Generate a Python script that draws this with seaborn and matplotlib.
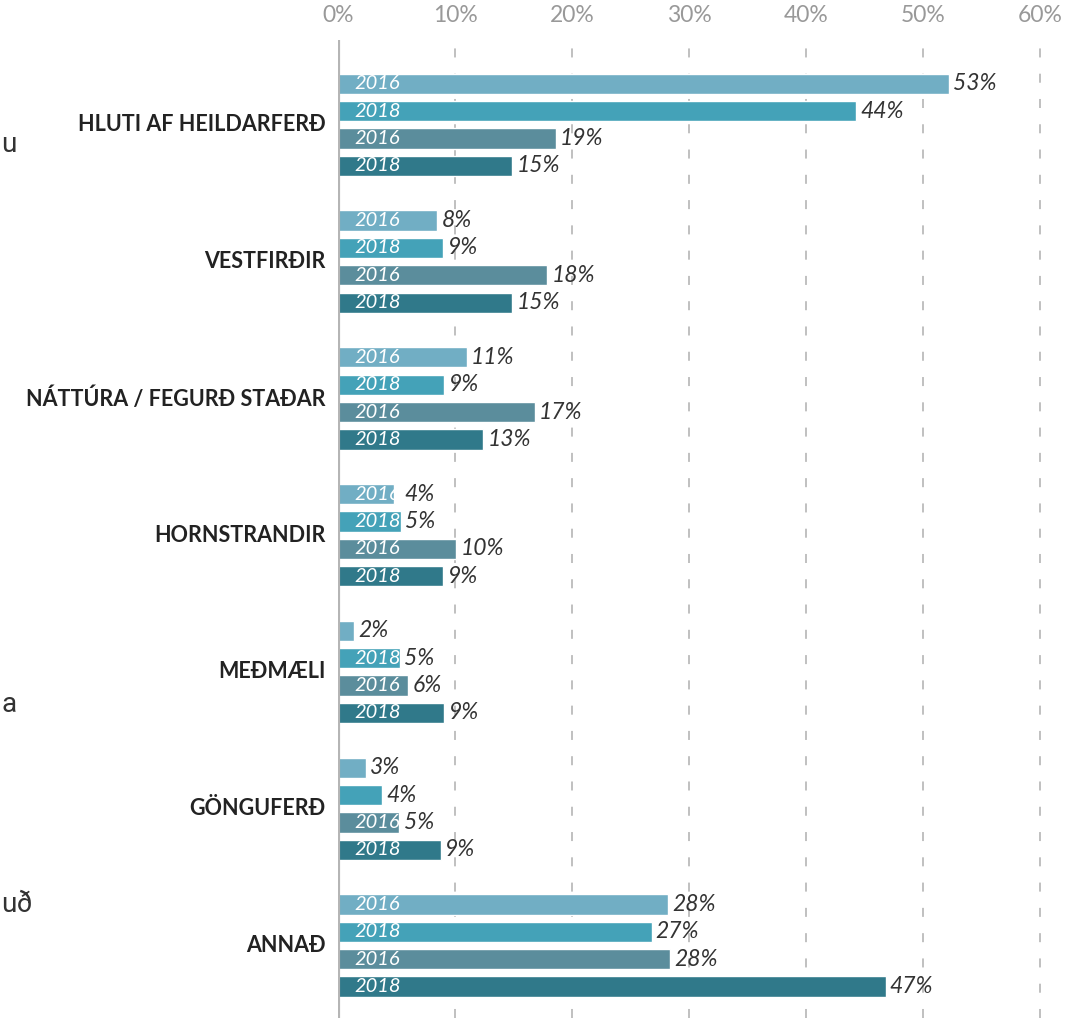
import pandas as pd
import matplotlib.pyplot as plt
import seaborn as sns

# categories (top to bottom)
categories = ["HLUTI AF HEILDARFERÐ", "VESTFIRÐIR", "NÁTTÚRA / FEGURÐ STAÐAR",
              "HORNSTRANDIR", "MEÐMÆLI", "GÖNGUFERÐ", "ANNAÐ"]

# four series, two survey years for each of two groups
series = ["2016 a", "2018 a", "2016 b", "2018 b"]
series_years = ["2016", "2018", "2016", "2018"]

# bar lengths (%)
vals_2016_a = [52.2, 8.5, 11.0, 4.8, 1.4, 2.4, 28.2]
vals_2018_a = [44.3, 9.0, 9.1, 5.4, 5.3, 3.8, 26.8]
vals_2016_b = [18.6, 17.9, 16.8, 10.1, 6.0, 5.2, 28.4]
vals_2018_b = [14.9, 14.9, 12.4, 9.0, 9.1, 8.8, 46.8]

# printed labels
labels_2016_a = ["53%", "8%", "11%", "4%", "2%", "3%", "28%"]
labels_2018_a = ["44%", "9%", "9%", "5%", "5%", "4%", "27%"]
labels_2016_b = ["19%", "18%", "17%", "10%", "6%", "5%", "28%"]
labels_2018_b = ["15%", "15%", "13%", "9%", "9%", "9%", "47%"]

colors = ["#71aec4", "#44a2b8", "#5b8d9c", "#30798a"]
ticks = [0, 10, 20, 30, 40, 50, 60]


def build_frame():
    rows = []
    for s, vals in zip(series, [vals_2016_a, vals_2018_a, vals_2016_b, vals_2018_b]):
        for c, v in zip(categories, vals):
            rows.append({"category": c, "series": s, "value": v})
    return pd.DataFrame(rows)


def main():
    df = build_frame()
    all_labels = [labels_2016_a, labels_2018_a, labels_2016_b, labels_2018_b]

    sns.set_style("white")
    plt.rcParams["font.family"] = ["Lato", "DejaVu Sans"]

    fig = plt.figure(figsize=(10.81, 10.18), dpi=100)
    ax = fig.add_axes([338 / 1081, 0, 1 - 338 / 1081, 1 - 40 / 1018])

    sns.barplot(data=df, y="category", x="value", hue="series", order=categories,
                hue_order=series, palette=colors, orient="h", width=0.8, gap=0.26,
                legend=False, ax=ax, saturation=1)

    ax.set_xlim(0, (1081 - 338) / 11.7)
    ax.set_ylim(6.53, -0.62)

    # dashed vertical grid
    for t in ticks[1:]:
        ax.axvline(t, color="#bbbbbb", lw=1.3, ls=(0, (5, 9)), zorder=0)
    ax.axvline(0, color="#b5b5b5", lw=3, zorder=3)

    ax.xaxis.tick_top()
    ax.set_xticks(ticks)
    ax.set_xticklabels([f"{t}%" for t in ticks], color="#999999", fontsize=16.5)
    ax.tick_params(axis="x", length=0, pad=10)
    ax.tick_params(axis="y", length=0)
    ax.set_yticks(range(len(categories)))
    ax.set_yticklabels([])
    ax.set_xlabel("")
    ax.set_ylabel("")
    for sp in ax.spines.values():
        sp.set_visible(False)

    # category names
    for i, c in enumerate(categories):
        ax.annotate(c, xy=(0, i), xycoords=("axes fraction", "data"),
                    xytext=(-9, 0), textcoords="offset points", ha="right",
                    va="center", fontsize=15.5, fontweight="bold", color="#222222")

    # year text inside bars and value labels
    for container, year, labels in zip(ax.containers, series_years, all_labels):
        for bar, lab in zip(container, labels):
            w = bar.get_width()
            yc = bar.get_y() + bar.get_height() / 2
            if w >= 4.5:
                t = ax.annotate(year, xy=(0, yc), xytext=(12, 0), textcoords="offset points",
                                ha="left", va="center", fontsize=14.5, style="italic",
                                color="white", zorder=5)
                t.set_clip_path(bar)
            lx = max(w, 5.3) if w >= 4.5 else w
            ax.annotate(lab, xy=(lx, yc), xytext=(3, 0), textcoords="offset points",
                        ha="left", va="center", fontsize=16.5, style="italic",
                        color="#333333", zorder=5)

    # text fragments on the left edge
    for txt, y in [("u", 145), ("a", 705), ("uð", 905)]:
        fig.text(0.001, 1 - y / 1018, txt, fontsize=20, color="#333333",
                 va="center", ha="left", family="Roboto")

    fig.savefig("out.png", dpi=100)


if __name__ == "__main__":
    main()
